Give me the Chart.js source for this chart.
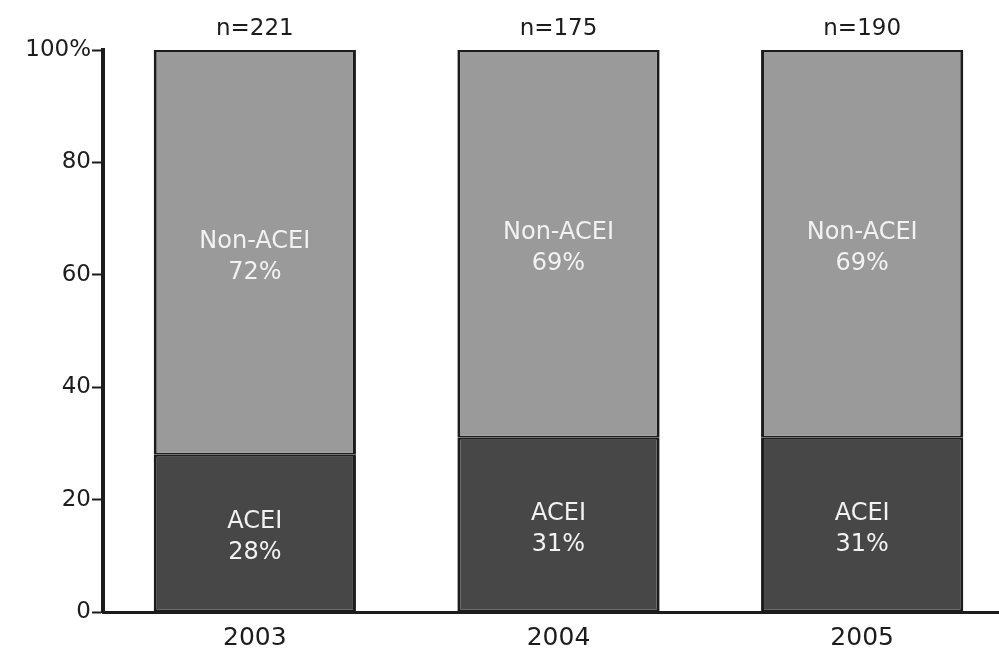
<!DOCTYPE html>
<html>
<head>
<meta charset="utf-8">
<script src="https://cdn.jsdelivr.net/npm/chart.js@4"></script>
<style>
  html, body { margin: 0; padding: 0; background: #ffffff; overflow: hidden; }
  #wrap { width: 1016px; height: 654px; position: relative; }
</style>
</head>
<body>
<div id="wrap"><canvas id="chart"></canvas></div>
<script>
// Share of patients by ACE-inhibitor use, per year
const years = ['2003', '2004', '2005'];
const sampleSizes = ['n=221', 'n=175', 'n=190'];
const aceiShare = [28, 31, 31];
const nonAceiShare = [72, 69, 69];
const yTicks = [0, 20, 40, 60, 80, 100];

const FONT = '"DejaVu Sans", Verdana, sans-serif';
const INK = '#1c1c1c';

// Writes the group name and its percentage in the middle of each bar segment
const segmentLabels = {
  id: 'segmentLabels',
  afterDatasetsDraw(chart) {
    const ctx = chart.ctx;
    ctx.save();
    ctx.fillStyle = '#f2f2f2';
    ctx.font = '24px ' + FONT;
    ctx.textAlign = 'center';
    ctx.textBaseline = 'middle';
    chart.data.datasets.forEach((ds, di) => {
      const meta = chart.getDatasetMeta(di);
      meta.data.forEach((bar, i) => {
        const mid = (bar.y + bar.base) / 2 + 4;
        ctx.fillText(ds.label, bar.x, mid - 15);
        ctx.fillText(ds.data[i] + '%', bar.x, mid + 16);
      });
    });
    ctx.restore();
  }
};

const barBorder = { top: 2, bottom: 2, left: 3, right: 3 };

new Chart(document.getElementById('chart'), {
  type: 'bar',
  data: {
    labels: years,
    datasets: [
      {
        label: 'ACEI',
        data: aceiShare,
        backgroundColor: '#474747',
        borderColor: INK,
        borderWidth: barBorder,
        borderSkipped: false,
        xAxisID: 'x'
      },
      {
        label: 'Non-ACEI',
        data: nonAceiShare,
        backgroundColor: '#9a9a9a',
        borderColor: INK,
        borderWidth: barBorder,
        borderSkipped: false,
        xAxisID: 'x'
      }
    ]
  },
  options: {
    responsive: true,
    maintainAspectRatio: false,
    animation: false,
    layout: { padding: { left: 0, right: 2, top: 0, bottom: 0 } },
    datasets: { bar: { categoryPercentage: 1, barPercentage: 0.666 } },
    plugins: {
      legend: { display: false },
      tooltip: { enabled: false }
    },
    scales: {
      x: {
        stacked: true,
        position: 'bottom',
        grid: { display: false, drawTicks: false },
        border: { display: true, color: INK, width: 3 },
        ticks: {
          color: INK,
          font: { family: FONT, size: 25 },
          padding: 11,
          maxRotation: 0
        },
        afterFit(scale) { scale.height = 42; }
      },
      xTop: {
        type: 'category',
        labels: sampleSizes,
        position: 'top',
        offset: true,
        grid: { display: false, drawTicks: false },
        border: { display: false },
        ticks: {
          color: INK,
          font: { family: FONT, size: 23 },
          padding: 7,
          maxRotation: 0
        },
        afterFit(scale) { scale.height = 50; }
      },
      y: {
        stacked: true,
        min: 0,
        max: 100,
        afterBuildTicks(scale) {
          scale.ticks = yTicks.map(v => ({ value: v }));
        },
        grid: {
          display: true,
          drawOnChartArea: false,
          drawTicks: true,
          tickLength: 11,
          tickWidth: 2,
          tickColor: INK
        },
        border: { display: true, color: INK, width: 4 },
        ticks: {
          color: INK,
          font: { family: FONT, size: 23 },
          padding: 1,
          callback: v => (v === 100 ? v + '%' : v)
        },
        afterFit(scale) { scale.width = 103; }
      }
    }
  },
  plugins: [segmentLabels]
});
</script>
</body>
</html>
